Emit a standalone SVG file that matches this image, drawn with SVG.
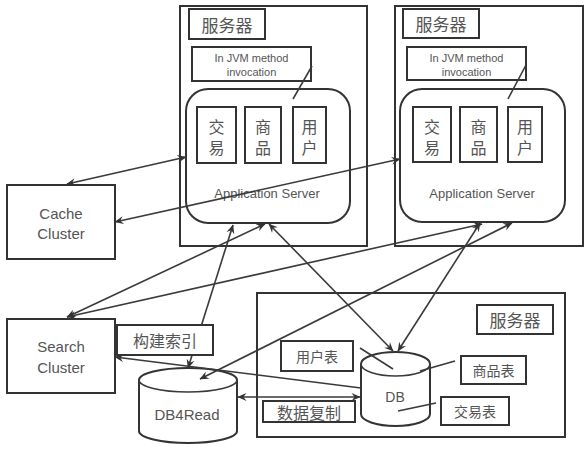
<svg xmlns="http://www.w3.org/2000/svg" width="588" height="449" viewBox="0 0 588 449">
<defs>
<marker id="ah" viewBox="0 0 10 10" refX="9.5" refY="5" markerWidth="9" markerHeight="9" markerUnits="userSpaceOnUse" orient="auto-start-reverse">
<path d="M0,0.5 L10,5 L0,9.5 L3.5,5 Z" fill="#333"/>
</marker>
</defs>
<style>
.box{fill:none;stroke:#333;stroke-width:2}
.wbox{fill:#fff;stroke:#333;stroke-width:2}
.ln{fill:none;stroke:#3a3a3a;stroke-width:1.6}
.c{stroke:#3a3a3a;stroke-width:1.6;fill:none;marker-end:url(#ah)}
.d{marker-start:url(#ah)}
text{font-family:"Liberation Sans","Noto Sans CJK SC",sans-serif;fill:#555;text-anchor:middle;dominant-baseline:central}
.zh{font-family:"Noto Sans CJK SC",sans-serif}
.v{font-family:"Noto Sans CJK SC",sans-serif;writing-mode:vertical-rl;font-size:16px;letter-spacing:5px}
</style>
<rect width="588" height="449" fill="#fff"/>

<g id="server1">
<rect class="box" x="180" y="6" width="187" height="240"/>
<rect class="box" x="189" y="9" width="76" height="30"/>
<text class="zh" x="227" y="24" font-size="17">服务器</text>
<rect class="box" x="192" y="47" width="119" height="34"/>
<text x="251.5" y="58" font-size="11">In JVM method</text>
<text x="251.5" y="72" font-size="11">invocation</text>
<rect class="box" x="186" y="89" width="164" height="134" rx="22"/>
<rect class="box" x="197" y="107" width="39" height="56"/>
<text class="v" x="216.5" y="140">交易</text>
<rect class="box" x="245" y="107" width="36" height="56"/>
<text class="v" x="263" y="140">商品</text>
<rect class="box" x="293" y="107" width="33" height="56"/>
<text class="v" x="309.5" y="140">用户</text>
<text x="267" y="193" font-size="13">Application Server</text>
<line class="ln" x1="312" y1="66" x2="293" y2="99"/>
</g>

<g id="server2">
<rect class="box" x="395" y="6" width="188" height="240"/>
<rect class="box" x="403" y="9" width="76" height="29"/>
<text class="zh" x="441" y="23.5" font-size="17">服务器</text>
<rect class="box" x="407" y="47" width="119" height="33"/>
<text x="466.5" y="58" font-size="11">In JVM method</text>
<text x="466.5" y="72" font-size="11">invocation</text>
<rect class="box" x="400" y="89" width="165" height="133" rx="22"/>
<rect class="box" x="413" y="107" width="38" height="55"/>
<text class="v" x="432" y="140">交易</text>
<rect class="box" x="460" y="107" width="37" height="55"/>
<text class="v" x="478.5" y="140">商品</text>
<rect class="box" x="508" y="107" width="34" height="55"/>
<text class="v" x="525" y="140">用户</text>
<text x="482" y="193" font-size="13">Application Server</text>
<line class="ln" x1="526" y1="65" x2="508" y2="99"/>
</g>

<g id="db-server">
<rect class="box" x="257" y="293" width="308" height="144"/>
<rect class="box" x="477" y="305" width="76" height="29"/>
<text class="zh" x="515" y="319.5" font-size="17">服务器</text>
</g>

<g id="cache-cluster">
<rect class="box" x="7" y="185" width="108" height="74"/>
<text x="61" y="213" font-size="15">Cache</text>
<text x="61" y="233" font-size="15">Cluster</text>
</g>

<g id="search-cluster">
<rect class="box" x="7" y="319" width="108" height="74"/>
<text x="61" y="346" font-size="15">Search</text>
<text x="61" y="367" font-size="15">Cluster</text>
</g>

<g id="db4read">
<path class="wbox" d="M139,380 L139,431 A49,12 0 0,0 237,431 L237,380 A49,12 0 0,0 139,380 Z"/>
<path class="ln" stroke-width="2" d="M139,380 A49,12 0 0,0 237,380"/>
<text x="187" y="414" font-size="15">DB4Read</text>
</g>

<g id="db">
<path class="wbox" d="M361,364 L361,414 A34.5,12 0 0,0 430,414 L430,364 A34.5,12 0 0,0 361,364 Z"/>
<path class="ln" stroke-width="2" d="M361,364 A34.5,12 0 0,0 430,364"/>
<text x="395" y="397" font-size="14">DB</text>
<line class="ln" x1="360" y1="348" x2="393" y2="369"/>
<line class="ln" x1="455" y1="361" x2="420" y2="371"/>
<line class="ln" x1="436" y1="403" x2="398" y2="411"/>
</g>

<g id="connectors">
<line class="c d" x1="67" y1="184" x2="186" y2="157"/>
<line class="c d" x1="115" y1="222" x2="400" y2="159"/>
<line class="c d" x1="67" y1="317" x2="265" y2="224"/>
<line class="c d" x1="67" y1="317" x2="482" y2="224"/>
<line class="c d" x1="233" y1="225" x2="188" y2="368"/>
<line class="c d" x1="269" y1="224" x2="393" y2="351"/>
<line class="c d" x1="480" y1="223" x2="398" y2="351"/>
<line class="c d" x1="512" y1="223" x2="200" y2="379"/>
<line class="c" x1="361" y1="388" x2="115" y2="357"/>
<line class="c d" x1="238" y1="397" x2="360" y2="397"/>
</g>

<g id="build-index">
<rect class="wbox" x="117" y="325" width="96" height="30"/>
<text class="zh" x="165" y="340" font-size="16">构建索引</text>
</g>
<g id="user-table">
<rect class="wbox" x="281" y="341" width="72" height="30"/>
<text class="zh" x="317" y="356" font-size="14">用户表</text>
</g>
<g id="goods-table">
<rect class="wbox" x="461" y="356" width="65" height="28"/>
<text class="zh" x="493.5" y="370" font-size="14">商品表</text>
</g>
<g id="trade-table">
<rect class="wbox" x="441" y="397" width="68" height="28"/>
<text class="zh" x="475" y="411" font-size="14">交易表</text>
</g>
<g id="replication">
<rect class="wbox" x="263" y="401" width="92" height="21"/>
<text class="zh" x="309" y="411.5" font-size="16">数据复制</text>
</g>
</svg>
